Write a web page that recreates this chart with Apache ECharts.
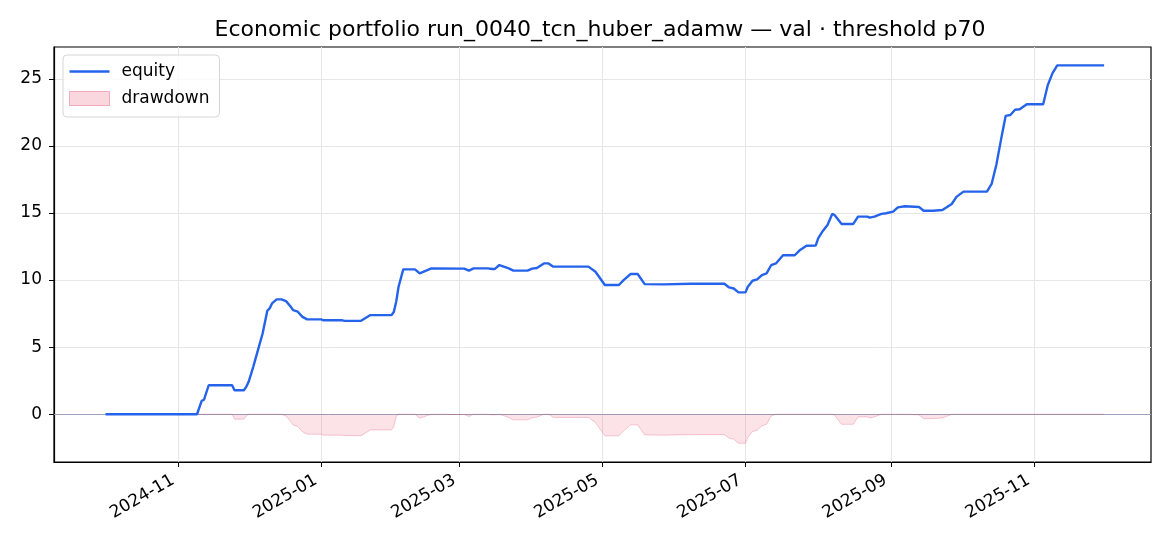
<!DOCTYPE html>
<html>
<head>
<meta charset="utf-8">
<script src="https://cdn.jsdelivr.net/npm/echarts@6/dist/echarts.min.js"></script>
<style>
  html, body { margin: 0; padding: 0; background: #fff; }
  #chart { width: 1170px; height: 546px; }
</style>
</head>
<body>
<div id="chart"></div>
<script>
// equity curve and drawdown
var dates = [
  '2024-10-01', '2024-11-09', '2024-11-11', '2024-11-12', '2024-11-14', '2024-11-24', '2024-11-25', '2024-11-29',
  '2024-11-30', '2024-12-01', '2024-12-03', '2024-12-05', '2024-12-07', '2024-12-09', '2024-12-10', '2024-12-11',
  '2024-12-13', '2024-12-15', '2024-12-17', '2024-12-19', '2024-12-20', '2024-12-22', '2024-12-24', '2024-12-26',
  '2025-01-01', '2025-01-02', '2025-01-10', '2025-01-11', '2025-01-18', '2025-01-22', '2025-01-31', '2025-02-01',
  '2025-02-02', '2025-02-03', '2025-02-05', '2025-02-10', '2025-02-12', '2025-02-17', '2025-03-03', '2025-03-05',
  '2025-03-07', '2025-03-13', '2025-03-15', '2025-03-16', '2025-03-18', '2025-03-22', '2025-03-24', '2025-03-30',
  '2025-04-01', '2025-04-03', '2025-04-06', '2025-04-08', '2025-04-10', '2025-04-25', '2025-04-28', '2025-05-02',
  '2025-05-08', '2025-05-10', '2025-05-13', '2025-05-16', '2025-05-19', '2025-05-27', '2025-06-08', '2025-06-22',
  '2025-06-24', '2025-06-26', '2025-06-28', '2025-07-01', '2025-07-02', '2025-07-04', '2025-07-06', '2025-07-08',
  '2025-07-10', '2025-07-12', '2025-07-14', '2025-07-17', '2025-07-22', '2025-07-24', '2025-07-27', '2025-07-31',
  '2025-08-01', '2025-08-03', '2025-08-05', '2025-08-07', '2025-08-08', '2025-08-11', '2025-08-16', '2025-08-18',
  '2025-08-22', '2025-08-23', '2025-08-25', '2025-08-28', '2025-08-30', '2025-09-02', '2025-09-04', '2025-09-07',
  '2025-09-13', '2025-09-15', '2025-09-19', '2025-09-23', '2025-09-27', '2025-09-29', '2025-10-02', '2025-10-12',
  '2025-10-14', '2025-10-16', '2025-10-18', '2025-10-20', '2025-10-22', '2025-10-24', '2025-10-26', '2025-10-29',
  '2025-11-05', '2025-11-07', '2025-11-09', '2025-11-11', '2025-12-01'
];
var equity = [
  0, 0, 1.0, 1.08, 2.16, 2.16, 1.79, 1.79,
  2.04, 2.4, 3.53, 4.78, 6.02, 7.71, 7.89, 8.26,
  8.56, 8.56, 8.43, 8.01, 7.76, 7.64, 7.26, 7.07,
  7.07, 7.0, 7.0, 6.96, 6.96, 7.39, 7.39, 7.64,
  8.4, 9.5, 10.8, 10.8, 10.5, 10.87, 10.85, 10.7,
  10.87, 10.87, 10.82, 10.82, 11.12, 10.87, 10.7, 10.7,
  10.85, 10.9, 11.24, 11.24, 11.0, 11.0, 10.62, 9.63,
  9.63, 10.0, 10.45, 10.45, 9.7, 9.68, 9.72, 9.72,
  9.45, 9.37, 9.08, 9.08, 9.5, 9.95, 10.05, 10.37,
  10.5, 11.12, 11.24, 11.85, 11.85, 12.2, 12.56, 12.58,
  13.1, 13.66, 14.1, 14.93, 14.85, 14.18, 14.18, 14.73,
  14.73, 14.65, 14.73, 14.93, 14.98, 15.1, 15.42, 15.5,
  15.45, 15.17, 15.17, 15.22, 15.67, 16.2, 16.59, 16.59,
  17.16, 18.58, 20.45, 22.24, 22.3, 22.69, 22.73, 23.1,
  23.1, 24.55, 25.42, 26.0, 26.0
];
var drawdown = [
  0, 0, 0, 0, 0, 0, -0.37, -0.37,
  -0.12, 0, 0, 0, 0, 0, 0, 0,
  0, 0, -0.13, -0.55, -0.8, -0.92, -1.3, -1.49,
  -1.49, -1.56, -1.56, -1.6, -1.6, -1.17, -1.17, -0.92,
  -0.16, 0, 0, 0, -0.3, 0, -0.02, -0.17,
  0, 0, -0.05, -0.05, 0, -0.25, -0.42, -0.42,
  -0.27, -0.22, 0, 0, -0.24, -0.24, -0.62, -1.61,
  -1.61, -1.24, -0.79, -0.79, -1.54, -1.56, -1.52, -1.52,
  -1.79, -1.87, -2.16, -2.16, -1.74, -1.29, -1.19, -0.87,
  -0.74, -0.12, 0, 0, 0, 0, 0, 0,
  0, 0, 0, 0, -0.08, -0.75, -0.75, -0.2,
  -0.2, -0.28, -0.2, 0, 0, 0, 0, 0,
  -0.05, -0.33, -0.33, -0.28, 0, 0, 0, 0,
  0, 0, 0, 0, 0, 0, 0, 0,
  0, 0, 0, 0, 0
];
var xTickDates = ['2024-11-01', '2025-01-01', '2025-03-01', '2025-05-01', '2025-07-01', '2025-09-01', '2025-11-01'];
var yTicks = [0, 5, 10, 15, 20, 25];

var FONT = 'DejaVu Sans';
function ts(s) { return new Date(s + 'T00:00:00Z').getTime(); }
function pad(n) { return (n < 10 ? '0' : '') + n; }

var equityData = dates.map(function (d, i) { return [ts(d), equity[i]]; });
var ddData = dates.map(function (d, i) { return [ts(d), drawdown[i]]; });
var xTicks = xTickDates.map(ts);

var chart = echarts.init(document.getElementById('chart'), null, { renderer: 'canvas' });
var option = {
  animation: false,
  backgroundColor: '#fff',
  title: {
    text: 'Economic portfolio run_0040_tcn_huber_adamw — val · threshold p70',
    left: 595, top: 14, textAlign: 'center',
    textStyle: { fontFamily: FONT, fontSize: 22, fontWeight: 'normal', color: '#000' }
  },
  legend: {
    orient: 'vertical',
    left: 63, top: 55,
    padding: [8, 10, 10, 6],
    itemWidth: 40, itemHeight: 14, itemGap: 10,
    backgroundColor: 'rgba(255,255,255,0.8)',
    borderColor: '#d6d6d6', borderWidth: 1, borderRadius: 4,
    textStyle: { fontFamily: FONT, fontSize: 17, color: '#000', padding: [0, 0, 0, 7] },
    data: [
      { name: 'equity', icon: 'path://M0 0H40V2.6H0Z', itemStyle: { color: '#2563eb' } },
      { name: 'drawdown', icon: 'rect',
        itemStyle: { color: 'rgba(225,29,72,0.18)', borderColor: 'rgba(225,29,72,0.3)', borderWidth: 1 } }
    ]
  },
  grid: {
    left: 54, right: 19, top: 47, bottom: 84,
    show: true, borderColor: '#000', borderWidth: 1.2, backgroundColor: 'transparent'
  },
  xAxis: {
    type: 'value',
    min: ts('2024-09-09'),
    max: ts('2025-12-21'),
    axisLine: { show: true, onZero: false, lineStyle: { color: '#000', width: 1.2 } },
    axisTick: { show: true, inside: false, length: 5, lineStyle: { color: '#000', width: 1 }, customValues: xTicks },
    axisLabel: {
      customValues: xTicks,
      rotate: 30, margin: 14, padding: [0, 6, 0, 0],
      fontFamily: FONT, fontSize: 17, color: '#000',
      formatter: function (v) { var d = new Date(v); return d.getUTCFullYear() + '-' + pad(d.getUTCMonth() + 1); }
    },
    splitLine: { show: true, lineStyle: { color: '#e6e6e6', width: 1 } }
  },
  yAxis: {
    type: 'value',
    min: -3.56, max: 27.37,
    axisLine: { show: true, onZero: false, lineStyle: { color: '#000', width: 1.2 } },
    axisTick: { show: true, inside: false, length: 5, lineStyle: { color: '#000', width: 1 }, customValues: yTicks },
    axisLabel: { customValues: yTicks, margin: 12, fontFamily: FONT, fontSize: 17, color: '#000' },
    splitLine: { show: true, lineStyle: { color: '#e6e6e6', width: 1 } }
  },
  series: [
    {
      name: 'zero',
      type: 'line',
      data: [],
      z: 1,
      markLine: {
        silent: true, symbol: 'none', z: 1, label: { show: false },
        lineStyle: { color: '#9aa3bb', width: 1, type: 'solid' },
        data: [{ yAxis: 0 }]
      }
    },
    {
      name: 'drawdown',
      type: 'line',
      data: ddData,
      symbol: 'none',
      z: 2,
      lineStyle: { color: 'rgba(225,29,72,0.22)', width: 1 },
      itemStyle: { color: 'rgba(225,29,72,0.18)' },
      areaStyle: { color: 'rgba(225,29,72,0.18)', origin: 0 }
    },
    {
      name: 'equity',
      type: 'line',
      data: equityData,
      symbol: 'none',
      z: 3,
      lineStyle: { color: '#2563eb', width: 2.4 },
      itemStyle: { color: '#2563eb' }
    }
  ]
};
chart.setOption(option);
</script>
</body>
</html>
